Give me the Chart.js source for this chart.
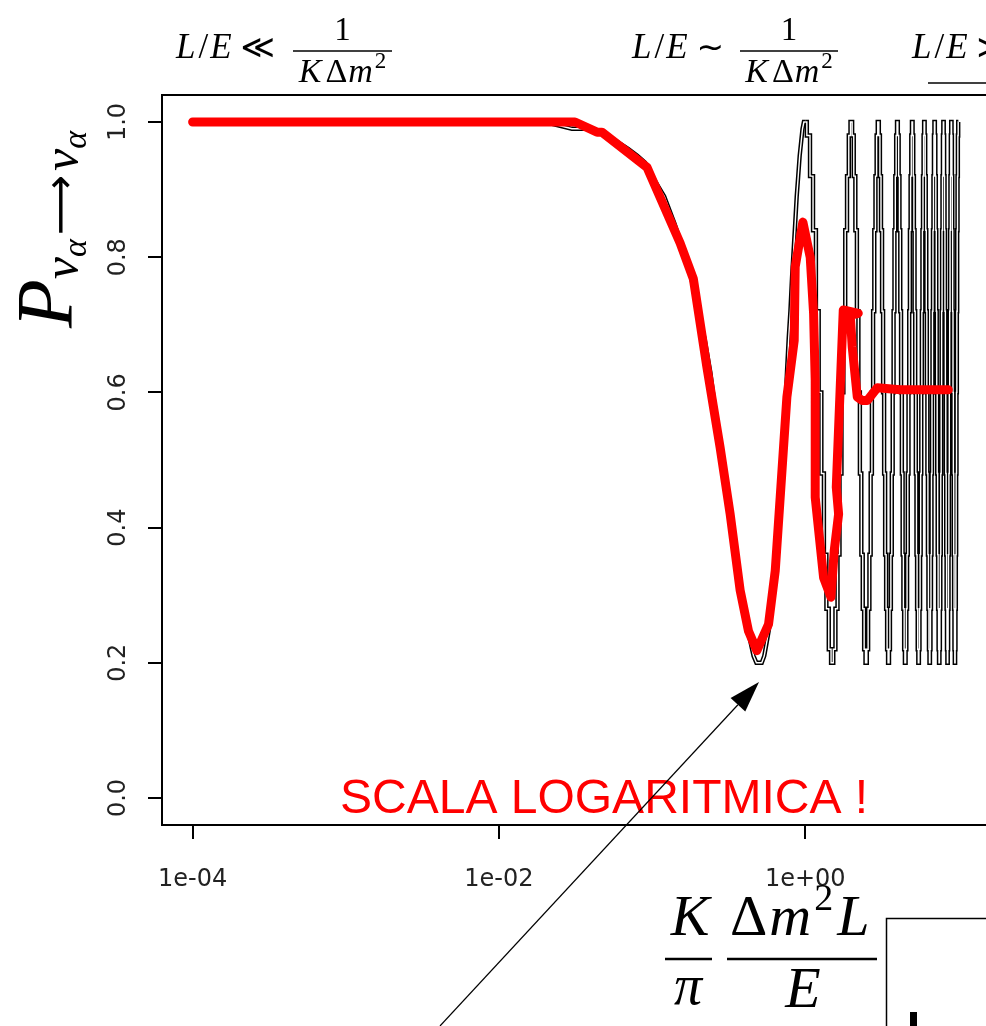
<!DOCTYPE html>
<html>
<head>
<meta charset="utf-8">
<script src="https://cdn.jsdelivr.net/npm/chart.js@4.4.1/dist/chart.umd.min.js"></script>
<style>
  html, body { margin: 0; padding: 0; background: #fff; overflow: hidden; }
  #wrap { position: absolute; left: 0; top: 0; width: 1000px; height: 1026px; }
</style>
</head>
<body>
<div id="wrap"><canvas id="probChart" width="1000" height="1026"></canvas></div>
<script>
// survival probability, exact curve below the first maximum
const oscX = [0.0001, 0.001, 0.01,
  0.02, 0.03, 0.04, 0.05, 0.06, 0.07, 0.08, 0.09, 0.10,
  0.12, 0.14, 0.16, 0.18, 0.20, 0.22, 0.24, 0.26, 0.28, 0.30,
  0.32, 0.34, 0.36, 0.38, 0.40, 0.42, 0.44, 0.46, 0.48, 0.50,
  0.52, 0.54, 0.56, 0.58, 0.60, 0.62, 0.64, 0.66, 0.68, 0.70,
  0.72, 0.74, 0.76, 0.78, 0.80, 0.82, 0.84, 0.86, 0.88, 0.90,
  0.92, 0.94, 0.96, 0.98, 1.00];
const oscY = [1.00, 1.00, 1.00,
  1.00, 0.99, 0.99, 0.98, 0.97, 0.96, 0.95, 0.94, 0.92,
  0.89, 0.85, 0.81, 0.77, 0.72, 0.68, 0.63, 0.57, 0.52, 0.48,
  0.43, 0.39, 0.35, 0.31, 0.28, 0.25, 0.23, 0.21, 0.20, 0.20,
  0.20, 0.21, 0.23, 0.25, 0.28, 0.31, 0.35, 0.39, 0.43, 0.48,
  0.52, 0.57, 0.63, 0.68, 0.72, 0.77, 0.81, 0.85, 0.89, 0.92,
  0.95, 0.97, 0.99, 1.00, 1.00];

// fast oscillations, sampled every 0.05 and drawn as steps
const stepX = [
  1.00, 1.05, 1.10, 1.15, 1.20, 1.25, 1.30, 1.35, 1.40, 1.45, 1.50, 1.55, 1.60, 1.65, 1.70, 1.75, 1.80, 1.85, 1.90, 1.95,
  2.00, 2.05, 2.10, 2.15, 2.20, 2.25, 2.30, 2.35, 2.40, 2.45, 2.50, 2.55, 2.60, 2.65, 2.70, 2.75, 2.80, 2.85, 2.90, 2.95,
  3.00, 3.05, 3.10, 3.15, 3.20, 3.25, 3.30, 3.35, 3.40, 3.45, 3.50, 3.55, 3.60, 3.65, 3.70, 3.75, 3.80, 3.85, 3.90, 3.95,
  4.00, 4.05, 4.10, 4.15, 4.20, 4.25, 4.30, 4.35, 4.40, 4.45, 4.50, 4.55, 4.60, 4.65, 4.70, 4.75, 4.80, 4.85, 4.90, 4.95,
  5.00, 5.05, 5.10, 5.15, 5.20, 5.25, 5.30, 5.35, 5.40, 5.45, 5.50, 5.55, 5.60, 5.65, 5.70, 5.75, 5.80, 5.85, 5.90, 5.95,
  6.00, 6.05, 6.10, 6.15, 6.20, 6.25, 6.30, 6.35, 6.40, 6.45, 6.50, 6.55, 6.60, 6.65, 6.70, 6.75, 6.80, 6.85, 6.90, 6.95,
  7.00, 7.05, 7.10, 7.15, 7.20, 7.25, 7.30, 7.35, 7.40, 7.45, 7.50, 7.55, 7.60, 7.65, 7.70, 7.75, 7.80, 7.85, 7.90, 7.95,
  8.00, 8.05, 8.10, 8.15, 8.20, 8.25, 8.30, 8.35, 8.40, 8.45, 8.50, 8.55, 8.60, 8.65, 8.70, 8.75, 8.80, 8.85, 8.90, 8.95,
  9.00, 9.05, 9.10, 9.15, 9.20, 9.25, 9.30, 9.35, 9.40, 9.45, 9.50, 9.55, 9.60, 9.65, 9.70, 9.75, 9.80, 9.85, 9.90, 9.95,
  10.00];
const stepY = [
  1.00, 0.98, 0.92, 0.84, 0.72, 0.60, 0.48, 0.36, 0.28, 0.22, 0.20, 0.22, 0.28, 0.36, 0.48, 0.60, 0.72, 0.84, 0.92, 0.98,
  1.00, 0.98, 0.92, 0.84, 0.72, 0.60, 0.48, 0.36, 0.28, 0.22, 0.20, 0.22, 0.28, 0.36, 0.48, 0.60, 0.72, 0.84, 0.92, 0.98,
  1.00, 0.98, 0.92, 0.84, 0.72, 0.60, 0.48, 0.36, 0.28, 0.22, 0.20, 0.22, 0.28, 0.36, 0.48, 0.60, 0.72, 0.84, 0.92, 0.98,
  1.00, 0.98, 0.92, 0.84, 0.72, 0.60, 0.48, 0.36, 0.28, 0.22, 0.20, 0.22, 0.28, 0.36, 0.48, 0.60, 0.72, 0.84, 0.92, 0.98,
  1.00, 0.98, 0.92, 0.84, 0.72, 0.60, 0.48, 0.36, 0.28, 0.22, 0.20, 0.22, 0.28, 0.36, 0.48, 0.60, 0.72, 0.84, 0.92, 0.98,
  1.00, 0.98, 0.92, 0.84, 0.72, 0.60, 0.48, 0.36, 0.28, 0.22, 0.20, 0.22, 0.28, 0.36, 0.48, 0.60, 0.72, 0.84, 0.92, 0.98,
  1.00, 0.98, 0.92, 0.84, 0.72, 0.60, 0.48, 0.36, 0.28, 0.22, 0.20, 0.22, 0.28, 0.36, 0.48, 0.60, 0.72, 0.84, 0.92, 0.98,
  1.00, 0.98, 0.92, 0.84, 0.72, 0.60, 0.48, 0.36, 0.28, 0.22, 0.20, 0.22, 0.28, 0.36, 0.48, 0.60, 0.72, 0.84, 0.92, 0.98,
  1.00, 0.98, 0.92, 0.84, 0.72, 0.60, 0.48, 0.36, 0.28, 0.22, 0.20, 0.22, 0.28, 0.36, 0.48, 0.60, 0.72, 0.84, 0.92, 0.98,
  1.00];

// averaged probability (red curve)
const avgX = [0.0001, 0.001, 0.01, 0.0314, 0.0437, 0.047, 0.0927, 0.1524, 0.186, 0.2278,
  0.278, 0.3235, 0.376, 0.426, 0.483, 0.576, 0.637, 0.6864, 0.759, 0.8475,
  0.86, 0.9656, 1.078, 1.134, 1.162, 1.162, 1.318, 1.472, 1.547, 1.652,
  1.595, 1.772, 2.221, 1.968, 2.028, 2.188, 2.358, 2.543, 2.955, 4.178, 8.60];
const avgY = [1.00, 1.00, 1.00, 1.00, 0.985, 0.985, 0.933, 0.821, 0.768, 0.638,
  0.519, 0.420, 0.307, 0.247, 0.218, 0.257, 0.336, 0.445, 0.593, 0.677,
  0.786, 0.852, 0.800, 0.717, 0.618, 0.445, 0.326, 0.297, 0.366, 0.420,
  0.460, 0.722, 0.717, 0.714, 0.667, 0.593, 0.588, 0.588, 0.607, 0.604, 0.604];

const xTickValues = [1e-4, 1e-2, 1];
const xTickLabels = ['1e-04', '1e-02', '1e+00'];
const yTickValues = [0, 0.2, 0.4, 0.6, 0.8, 1.0];
const yTickLabels = ['0.0', '0.2', '0.4', '0.6', '0.8', '1.0'];

function toPoints(xs, ys) {
  return xs.map(function(x, i) { return { x: x, y: ys[i] }; });
}

const SERIF = '"Liberation Serif", "DejaVu Serif", serif';
const MATHSYM = '"DejaVu Sans", "Liberation Serif", sans-serif';
function it(size) { return 'italic ' + size + 'px ' + SERIF; }
function rm(size) { return size + 'px ' + SERIF; }
function sym(size) { return size + 'px ' + MATHSYM; }

// text pieces laid out one after another on a baseline
function runsWidth(ctx, runs) {
  let w = 0;
  runs.forEach(function(r) {
    ctx.font = r.font;
    w += ctx.measureText(r.text).width + (r.gap || 0);
  });
  return w;
}
function drawRuns(ctx, x, y, runs) {
  runs.forEach(function(r) {
    ctx.font = r.font;
    ctx.fillText(r.text, x, y + (r.dy || 0));
    x += ctx.measureText(r.text).width + (r.gap || 0);
  });
  return x;
}
function drawCentered(ctx, cx, y, runs) {
  drawRuns(ctx, cx - runsWidth(ctx, runs) / 2, y, runs);
}
function hline(ctx, x1, x2, y, w) {
  ctx.beginPath();
  ctx.lineWidth = w;
  ctx.moveTo(x1, y);
  ctx.lineTo(x2, y);
  ctx.stroke();
}

// L/E relation with 1/(K dm^2) fraction
function regimeLabel(ctx, x, relation, fracLeft, fracRight) {
  drawRuns(ctx, x, 58, [
    { text: 'L', font: it(35), gap: 3 },
    { text: '/', font: rm(35), gap: 2 },
    { text: 'E', font: it(35), gap: 9 },
    { text: relation, font: sym(33) }
  ]);
  if (fracLeft == null) return;
  const cx = (fracLeft + fracRight) / 2;
  hline(ctx, fracLeft, fracRight, 51, 1.6);
  drawCentered(ctx, cx, 40, [{ text: '1', font: rm(33) }]);
  drawCentered(ctx, cx, 82, [
    { text: 'K', font: it(34), gap: 4 },
    { text: '\u0394', font: rm(34), gap: 1 },
    { text: 'm', font: it(34), gap: 2 },
    { text: '2', font: rm(23), dy: -14 }
  ]);
}

const annotations = {
  id: 'annotations',
  afterDraw: function(chart) {
    const ctx = chart.ctx;
    const area = chart.chartArea;
    ctx.save();
    ctx.fillStyle = '#000';
    ctx.strokeStyle = '#000';
    ctx.textBaseline = 'alphabetic';
    ctx.textAlign = 'left';

    // frame on the top and right of the plot
    ctx.lineWidth = 2;
    ctx.beginPath();
    ctx.moveTo(area.left, area.top);
    ctx.lineTo(area.right, area.top);
    ctx.lineTo(area.right, area.bottom);
    ctx.stroke();

    // regime labels above the plot
    regimeLabel(ctx, 176, '\u226A', 293, 392);
    regimeLabel(ctx, 632, '\u223C', 740, 838);
    regimeLabel(ctx, 912, '\u226B', null, null);
    hline(ctx, 928, 1000, 83, 1.5);

    // y axis title, written bottom to top
    ctx.save();
    ctx.translate(72, 328);
    ctx.rotate(-Math.PI / 2);
    drawRuns(ctx, 0, 0, [
      { text: 'P', font: it(80), gap: 0 },
      { text: '\u03BD', font: it(50), dy: 6 },
      { text: '\u03B1', font: it(34), dy: 14, gap: 4 },
      { text: '\u27F6', font: sym(42), dy: 2, gap: 4 },
      { text: '\u03BD', font: it(50), dy: 6 },
      { text: '\u03B1', font: it(34), dy: 14 }
    ]);
    ctx.restore();

    // x axis title
    drawCentered(ctx, 690, 935, [{ text: 'K', font: it(58) }]);
    hline(ctx, 665, 712, 959, 2.5);
    drawCentered(ctx, 688, 1004, [{ text: '\u03C0', font: it(56) }]);
    drawRuns(ctx, 730, 935, [
      { text: '\u0394', font: rm(58), gap: 2 },
      { text: 'm', font: it(58), gap: 3 },
      { text: '2', font: rm(38), dy: -25, gap: 4 },
      { text: 'L', font: it(58) }
    ]);
    hline(ctx, 727, 877, 959, 2.5);
    drawCentered(ctx, 803, 1007, [{ text: 'E', font: it(58) }]);

    // boxed insert at the bottom right
    ctx.lineWidth = 1.5;
    ctx.strokeRect(886.5, 918.5, 200, 200);
    ctx.fillRect(910, 1012, 7, 14);

    // red note inside the plot
    ctx.fillStyle = '#ff0000';
    ctx.font = '48px "Liberation Sans", Arial, sans-serif';
    ctx.fillText('SCALA LOGARITMICA !', 340, 813);

    // arrow pointing at the first minimum
    const x0 = 440, y0 = 1026, x1 = 759, y1 = 682;
    const len = Math.hypot(x1 - x0, y1 - y0);
    const ux = (x1 - x0) / len, uy = (y1 - y0) / len;
    const head = 31, half = 10;
    ctx.strokeStyle = '#000';
    ctx.fillStyle = '#000';
    ctx.lineWidth = 1.2;
    ctx.beginPath();
    ctx.moveTo(x0, y0);
    ctx.lineTo(x1 - ux * head, y1 - uy * head);
    ctx.stroke();
    ctx.beginPath();
    ctx.moveTo(x1, y1);
    ctx.lineTo(x1 - ux * head - uy * half, y1 - uy * head + ux * half);
    ctx.lineTo(x1 - ux * head + uy * half, y1 - uy * head - ux * half);
    ctx.closePath();
    ctx.fill();

    ctx.restore();
  }
};

const tickFont = { family: '"DejaVu Sans", sans-serif', size: 24 };

new Chart(document.getElementById('probChart'), {
  type: 'scatter',
  data: {
    datasets: [
      {
        label: 'media',
        data: toPoints(avgX, avgY),
        showLine: true,
        borderColor: '#ff0000',
        borderWidth: 9,
        borderJoinStyle: 'round',
        borderCapStyle: 'round',
        pointRadius: 0,
        order: 0
      },
      {
        label: 'oscillazione (interno)',
        data: toPoints(oscX, oscY),
        showLine: true,
        borderColor: '#ffffff',
        borderWidth: 1.4,
        pointRadius: 0,
        order: 1
      },
      {
        label: 'oscillazione veloce (interno)',
        data: toPoints(stepX, stepY),
        showLine: true,
        stepped: 'middle',
        borderColor: '#ffffff',
        borderWidth: 1.4,
        pointRadius: 0,
        order: 1
      },
      {
        label: 'oscillazione',
        data: toPoints(oscX, oscY),
        showLine: true,
        borderColor: '#000000',
        borderWidth: 4.4,
        pointRadius: 0,
        order: 2
      },
      {
        label: 'oscillazione veloce',
        data: toPoints(stepX, stepY),
        showLine: true,
        stepped: 'middle',
        borderColor: '#000000',
        borderWidth: 4.4,
        pointRadius: 0,
        order: 2
      }
    ]
  },
  options: {
    responsive: false,
    devicePixelRatio: 1,
    animation: false,
    events: [],
    layout: { padding: { left: 0, top: 95, right: 11, bottom: 0 } },
    plugins: {
      legend: { display: false },
      tooltip: { enabled: false },
      title: { display: false }
    },
    scales: {
      x: {
        type: 'logarithmic',
        position: 'bottom',
        min: Math.pow(10, -4.2),
        max: Math.pow(10, 1.2),
        afterBuildTicks: function(scale) {
          scale.ticks = xTickValues.map(function(v) { return { value: v }; });
        },
        afterFit: function(scale) { scale.height = 201; },
        ticks: {
          autoSkip: false,
          maxRotation: 0,
          padding: 26,
          color: '#222',
          font: tickFont,
          callback: function(value) { return xTickLabels[xTickValues.indexOf(value)]; }
        },
        grid: { drawOnChartArea: false, drawTicks: true, tickLength: 14, color: '#000', lineWidth: 2 },
        border: { display: true, color: '#000', width: 2 }
      },
      y: {
        type: 'linear',
        min: -0.04,
        max: 1.04,
        afterBuildTicks: function(scale) {
          scale.ticks = yTickValues.map(function(v) { return { value: v }; });
        },
        afterFit: function(scale) { scale.width = 162; },
        ticks: {
          autoSkip: false,
          minRotation: 90,
          maxRotation: 90,
          crossAlign: 'center',
          padding: 10,
          color: '#222',
          font: tickFont,
          callback: function(value) { return yTickLabels[yTickValues.indexOf(value)]; }
        },
        grid: { drawOnChartArea: false, drawTicks: true, tickLength: 14, color: '#000', lineWidth: 2 },
        border: { display: true, color: '#000', width: 2 }
      }
    }
  },
  plugins: [annotations]
});
</script>
</body>
</html>
